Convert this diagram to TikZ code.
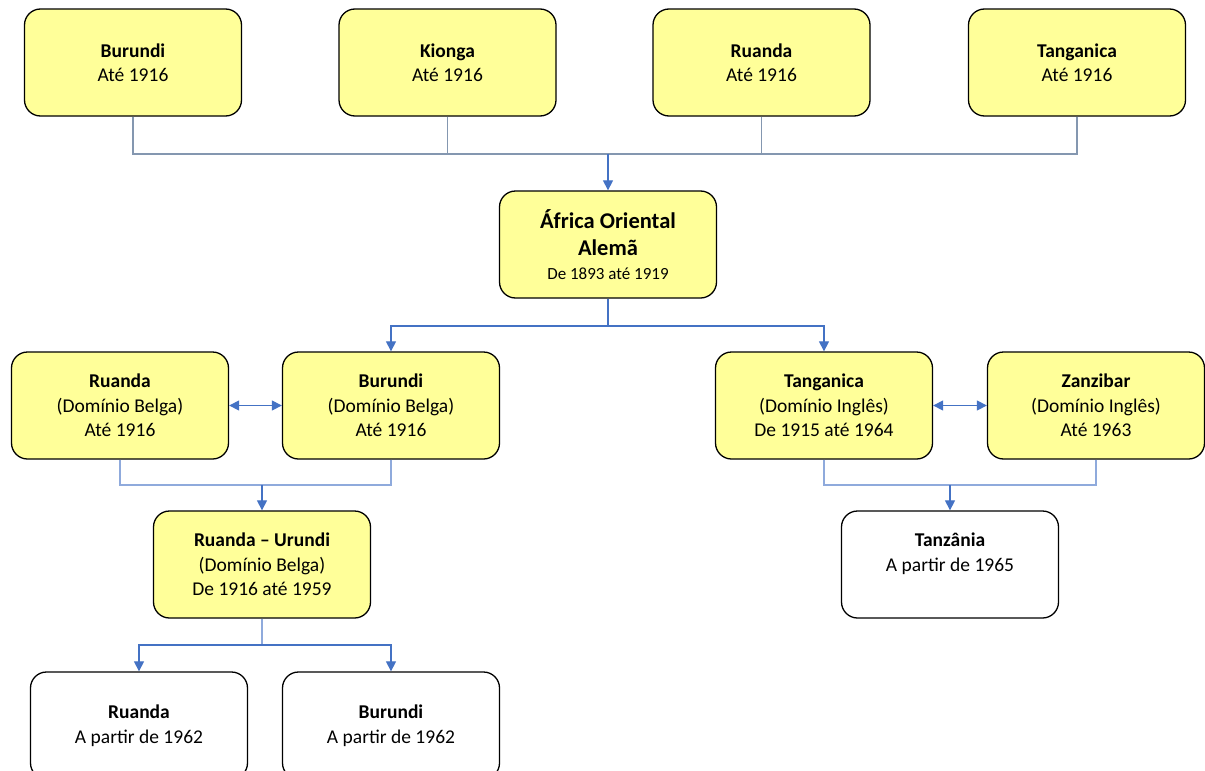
\documentclass[tikz,border=0pt]{standalone}
\usepackage{fontspec}
\setmainfont{Carlito}
\usetikzlibrary{arrows.meta}
\definecolor{boxyellow}{HTML}{FFFF99}
\definecolor{linegray}{HTML}{8497B0}
\definecolor{lineblue}{HTML}{4472C4}
\definecolor{lightblue}{HTML}{8FAADC}

\begin{document}
\begin{tikzpicture}[x=1pt,y=-1pt,
  box/.style={draw=black,line width=1.3pt,rounded corners=16pt,minimum width=217pt,minimum height=107pt,align=center,font=\fontsize{19.5}{24.5}\selectfont,inner sep=2pt},
  colony/.style={box,fill=boxyellow},
  nation/.style={box,fill=white},
  feed/.style={draw=linegray,line width=1.2pt},
  branch/.style={draw=lightblue,line width=1.2pt},
  arrowline/.style={draw=lineblue,line width=1.2pt,-{Triangle[width=10pt,length=10pt]}},
  twoway/.style={draw=lineblue,line width=1.2pt,{Triangle[width=10pt,length=10pt]}-{Triangle[width=10pt,length=10pt]}}]
\useasboundingbox (0,0) rectangle (1205,771);
\clip (0,0) rectangle (1205,771);

\node[colony] (burTop) at (133,62.5) {\textbf{Burundi}\\Até 1916};
\node[colony] (kio) at (447.5,62.5) {\textbf{Kionga}\\Até 1916};
\node[colony] (ruaTop) at (761.5,62.5) {\textbf{Ruanda}\\Até 1916};
\node[colony] (tanTop) at (1077,62.5) {\textbf{Tanganica}\\Até 1916};

\node[colony,font=\fontsize{22.5}{27}\selectfont] (afr) at (608,244.5) {\textbf{África Oriental}\\\textbf{Alemã}\\[-3pt]{\fontsize{17}{20}\selectfont De 1893 até 1919}};

\node[colony] (ruaBel) at (120,405.5) {\textbf{Ruanda}\\(Domínio Belga)\\Até 1916};
\node[colony] (burBel) at (391,405.5) {\textbf{Burundi}\\(Domínio Belga)\\Até 1916};
\node[colony] (tanIng) at (824,405.5) {\textbf{Tanganica}\\(Domínio Inglês)\\De 1915 até 1964};
\node[colony] (zan) at (1096,405.5) {\textbf{Zanzibar}\\(Domínio Inglês)\\Até 1963};

\node[colony] (rurun) at (262,564.5) {\textbf{Ruanda -- Urundi}\\(Domínio Belga)\\De 1916 até 1959};
\node[nation] (tnz) at (950,564.5) {\textbf{Tanzânia}\\A partir de 1965\\~};

\node[nation] (ruaInd) at (139,725.5) {\textbf{Ruanda}\\A partir de 1962};
\node[nation] (burInd) at (391,725.5) {\textbf{Burundi}\\A partir de 1962};

\coordinate (jTop) at (608,154);
\coordinate (jAfr) at (608,326);
\coordinate (jBel) at (262,485);
\coordinate (jIng) at (950,485);
\coordinate (jRur) at (262,645);

\draw[feed] (burTop.south) |- (jTop);
\draw[feed] (kio.south) |- (jTop);
\draw[feed] (ruaTop.south) |- (jTop);
\draw[feed] (tanTop.south) |- (jTop);
\draw[arrowline] (jTop) -- (afr.north);

\draw[lineblue,line width=1.2pt] (afr.south) -- (jAfr);
\draw[arrowline] (jAfr) -| (burBel.north);
\draw[arrowline] (jAfr) -| (tanIng.north);

\draw[twoway] (ruaBel.east) -- (burBel.west);
\draw[twoway] (tanIng.east) -- (zan.west);

\draw[branch] (ruaBel.south) |- (jBel);
\draw[branch] (burBel.south) |- (jBel);
\draw[arrowline] (jBel) -- (rurun.north);

\draw[branch] (tanIng.south) |- (jIng);
\draw[branch] (zan.south) |- (jIng);
\draw[arrowline] (jIng) -- (tnz.north);

\draw[branch] (rurun.south) -- (jRur);
\draw[arrowline] (jRur) -| (ruaInd.north);
\draw[arrowline] (jRur) -| (burInd.north);
\end{tikzpicture}
\end{document}
